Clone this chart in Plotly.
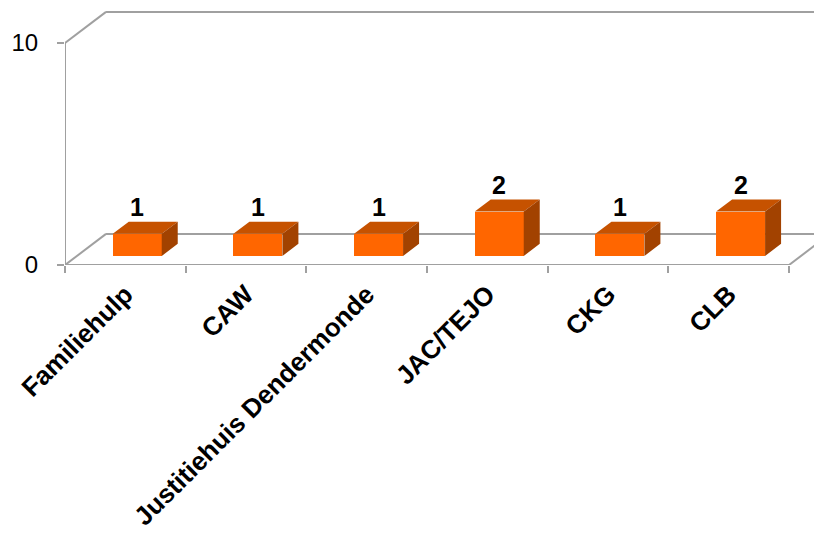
import plotly.graph_objects as go

# ---- data ----
categories = ["Familiehulp", "CAW", "Justitiehuis Dendermonde", "JAC/TEJO", "CKG", "CLB"]
values = [1, 1, 1, 2, 1, 2]
y_tick_values = [0, 10]

# ---- 3D look parameters (in axis units) ----
DX = 0.34      # depth offset along x (category units)
DY = 1.40      # depth offset along y (value units)
F0, F1 = 0.29, 0.68   # bar front / back position inside depth
BAR_W = 0.406

FRONT = "#FF6600"
TOP = "#C65200"
SIDE = "#A24200"
LINE = "#A0A0A0"

n = len(categories)
PAGE_OFF = 8          # browser body margin
PX_X = 120.67         # px per category
PX_Y = 22.2           # px per value unit
left_px, bottom_px, right_px, top_px = 65, 265, 822, 8
x_min = -0.5
x_max = x_min + (right_px - left_px) / PX_X
y_max = (bottom_px - top_px) / PX_Y

fig = go.Figure()

# front faces
centers = [i + F0 * DX for i in range(n)]
fig.add_trace(go.Bar(
    x=centers, y=values, base=[F0 * DY] * n, width=BAR_W,
    marker=dict(color=FRONT, line=dict(width=0)),
    hoverinfo="skip", showlegend=False,
))

# top and side faces
top_x, top_y, side_x, side_y = [], [], [], []
d = F1 - F0
for c, v in zip(centers, values):
    xl, xr = c - BAR_W / 2, c + BAR_W / 2
    yb, yt = F0 * DY, F0 * DY + v
    top_x += [xl, xr, xr + d * DX, xl + d * DX, xl, None]
    top_y += [yt, yt, yt + d * DY, yt + d * DY, yt, None]
    side_x += [xr, xr + d * DX, xr + d * DX, xr, xr, None]
    side_y += [yb, yb + d * DY, yt + d * DY, yt, yb, None]

fig.add_trace(go.Scatter(x=top_x, y=top_y, mode="lines", fill="toself",
                         fillcolor=TOP, line=dict(width=0, color=TOP),
                         hoverinfo="skip", showlegend=False))
fig.add_trace(go.Scatter(x=side_x, y=side_y, mode="lines", fill="toself",
                         fillcolor=SIDE, line=dict(width=0, color=SIDE),
                         hoverinfo="skip", showlegend=False))

# walls / floor outline
ytop = y_tick_values[-1]
segs = [
    (x_min, 0, x_min, ytop),                       # left axis
    (x_min, ytop, x_min + DX, ytop + DY),          # left top diagonal
    (x_min + DX, ytop + DY, n - 0.5 + DX, ytop + DY),  # back wall top
    (x_min, 0, n - 0.5, 0),                        # floor front
    (x_min, 0, x_min + DX, DY),                    # floor left diag
    (x_min + DX, DY, n - 0.5 + DX, DY),            # floor back
    (n - 0.5, 0, n - 0.5 + DX, DY),                # floor right diag
]
for x0, y0, x1, y1 in segs:
    fig.add_shape(type="line", xref="x", yref="y", x0=x0, y0=y0, x1=x1, y1=y1,
                  line=dict(color=LINE, width=2), layer="below")

# data labels
for c, v in zip(centers, values):
    fig.add_annotation(x=c, y=F0 * DY + v, text=f"<b>{v}</b>", showarrow=False,
                       yshift=27, yanchor="middle",
                       font=dict(size=25, color="black", family="Arial, Liberation Sans"))

fig.update_layout(
    width=822, height=537,
    margin=dict(l=left_px - PAGE_OFF, r=PAGE_OFF, t=top_px - PAGE_OFF,
                b=537 - (bottom_px - PAGE_OFF), autoexpand=False),
    paper_bgcolor="white", plot_bgcolor="white",
    font=dict(family="Arial, Liberation Sans", color="black"),
    bargap=0,
    xaxis=dict(
        range=[x_min, x_max], tickmode="array",
        tickvals=list(range(n)), ticktext=[f"<b>{c}</b>" for c in categories],
        tickangle=-45, ticks="", showgrid=False, zeroline=False, showline=False,
        tickfont=dict(size=26, color="black"), ticklabelstandoff=8,
        minor=dict(tickmode="linear", tick0=-0.5, dtick=1, ticks="outside",
                   ticklen=7, tickwidth=2, tickcolor=LINE, showgrid=False),
        fixedrange=True,
    ),
    yaxis=dict(
        range=[0, y_max], tickmode="array", tickvals=y_tick_values,
        ticks="outside", ticklen=7, tickwidth=2, tickcolor=LINE,
        showgrid=False, zeroline=False, showline=False,
        tickfont=dict(size=24, color="black"), ticklabelstandoff=14,
        fixedrange=True,
    ),
)

fig.write_html("out.html")
